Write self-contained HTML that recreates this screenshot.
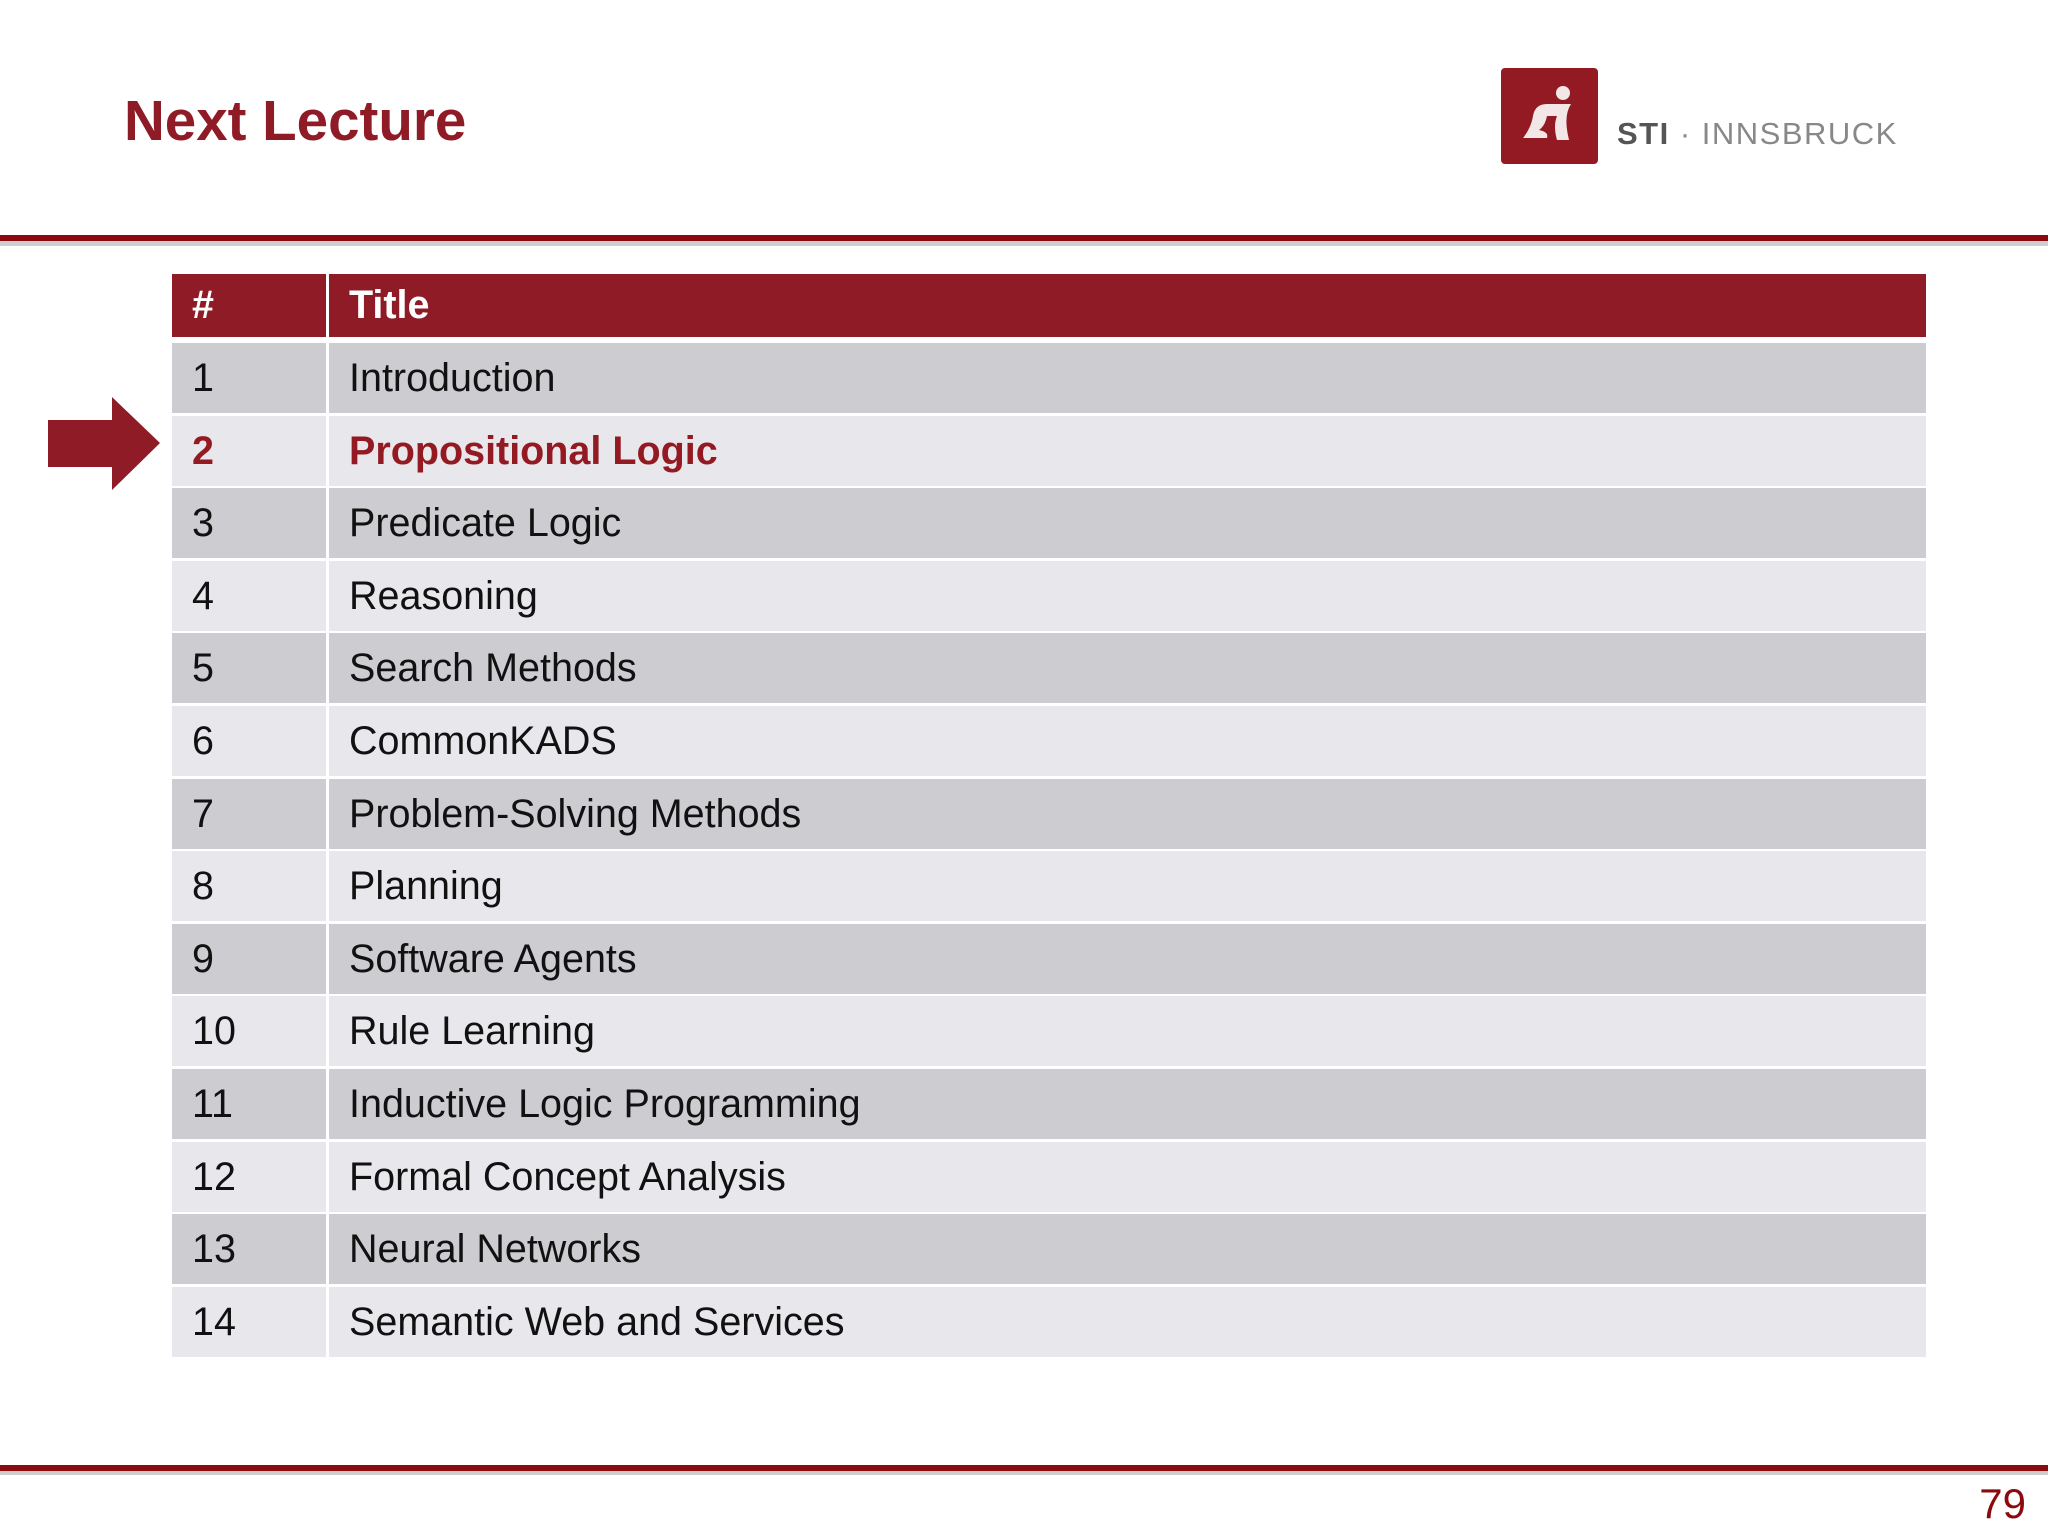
<!DOCTYPE html>
<html><head><meta charset="utf-8"><style>
body{margin:0;width:2048px;height:1536px;background:#fff;position:relative;overflow:hidden;font-family:"Liberation Sans",sans-serif}
.a{position:absolute}
.row{position:absolute;left:172px;width:1754px;height:70px}
.c1,.c2{position:absolute;top:0;height:100%;display:flex;align-items:center;font-size:39.5px;color:#111}
.c1{left:0;width:154px;padding-left:20px;box-sizing:border-box}
.c2{left:157px;right:0;padding-left:20px}
</style></head><body>
<div class="a" style="left:124px;top:88px;font-size:56.5px;font-weight:bold;color:#8e1b25">Next Lecture</div>
<div class="a" style="left:1501px;top:68px;width:97px;height:96px;background:#931a22;border-radius:4px">
<svg width="97" height="96" viewBox="0 0 97 96"><circle cx="62" cy="25" r="7" fill="#f3e6e6"/><path d="M22 70 Q30 60 32 48 Q34 36 46 36 L70 36 Q62 48 68 72 L56 72 Q52 58 56 48 L46 48 Q44 58 38 62 Q48 64 46 70 Z" fill="#f3e6e6"/></svg></div>
<div class="a" style="left:1617px;top:116px;font-size:31px;letter-spacing:1.5px;color:#888"><b style="color:#555">STI</b> · INNSBRUCK</div>
<div class="a" style="left:0;top:235px;width:2048px;height:6px;background:#8b0a0e"></div>
<div class="a" style="left:0;top:241px;width:2048px;height:5px;background:#d0cdd0"></div>
<svg class="a" style="left:0;top:0" width="200" height="520"><polygon points="48,420 112,420 112,397 160,443 112,490 112,467 48,467" fill="#8e1b25"/></svg>
<div id="tbl"></div>
<div class="a" style="left:0;top:1465px;width:2048px;height:6px;background:#8b0a0e"></div>
<div class="a" style="left:0;top:1471px;width:2048px;height:4px;background:#d0cdd0"></div>
<div class="a" style="right:22px;top:1480px;font-size:42px;color:#8b0a0e">79</div>
<script>
const nums=["1","2","3","4","5","6","7","8","9","10","11","12","13","14"];
const titles=["Introduction","Propositional Logic","Predicate Logic","Reasoning","Search Methods","CommonKADS","Problem-Solving Methods","Planning","Software Agents","Rule Learning","Inductive Logic Programming","Formal Concept Analysis","Neural Networks","Semantic Web and Services"];
const highlight=1;
const t=document.getElementById('tbl');
function mk(top,h,n,title,bg,col,bold,nm){
 const r=document.createElement('div');r.className='row';r.style.top=top+'px';r.style.height=h+'px';
 
 
 const a=document.createElement('div');a.className='c1';a.style.background=bg;a.style.color=col;if(bold)a.style.fontWeight='bold';a.textContent=n;
 
 
 const b=document.createElement('div');b.className='c2';b.style.background=bg;b.style.color=col;if(bold)b.style.fontWeight='bold';b.textContent=title;
 
 
 r.appendChild(a);r.appendChild(b);t.appendChild(r);
}
mk(274,63,"#","Title","#8e1b25","#fff",true,'header-row');
const pitch=72.6;
nums.forEach((n,i)=>{
 const top=Math.round(343+i*pitch);
 const hl=i===highlight;
 mk(top,Math.round(pitch-3),n,titles[i],i%2===0?"#cdccd0":"#e8e7eb",hl?"#931a22":"#111",hl,'lecture-row');
});
</script>
</body></html>
